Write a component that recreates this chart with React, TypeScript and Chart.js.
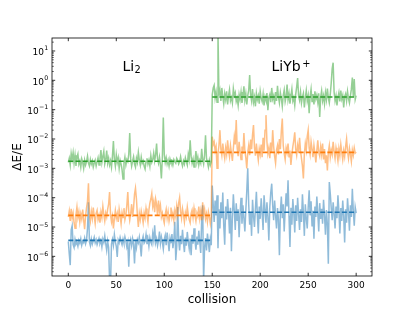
import React, { useEffect, useRef } from 'react';
import { Chart, registerables } from 'chart.js';

Chart.register(...registerables);

// collision index (categories)
const collisions: number[] = Array.from({ length: 301 }, (_, i) => i);

// blue series (lowest band): collisions 0-149 and 150-300
const blueLi2 = [
  3.2e-6, 1.2e-6, 5.0e-7, 8.0e-6, 1.1e-5, 2.5e-6, 2.0e-6, 3.8e-6, 2.6e-6, 3.0e-6,
  2.2e-6, 3.5e-6, 2.8e-6, 4.0e-6, 2.4e-6, 3.3e-6, 2.9e-6, 4.2e-6, 2.7e-6, 3.6e-6,
  9.0e-6, 7.0e-5, 3.1e-6, 2.3e-6, 3.9e-6, 2.6e-6, 3.4e-6, 4.5e-6, 2.9e-6, 3.7e-6,
  2.5e-6, 3.2e-6, 4.1e-6, 2.8e-6, 3.5e-6, 2.1e-6, 3.9e-6, 3.0e-6, 5.0e-6, 2.7e-6,
  1.6e-6, 3.3e-6, 2.0e-6, 1.5e-7, 1.2e-7, 2.6e-6, 3.8e-6, 2.4e-6, 5.5e-6, 3.1e-6,
  2.2e-6, 9.5e-7, 3.6e-6, 2.9e-6, 4.4e-6, 3.2e-6, 2.5e-6, 3.9e-6, 2.8e-6, 4.6e-6,
  3.3e-6, 2.1e-6, 3.0e-6, 4.4e-7, 2.7e-6, 3.8e-6, 2.3e-6, 4.0e-6, 2.6e-6, 5.7e-7,
  3.4e-6, 2.0e-6, 3.7e-6, 2.9e-6, 4.5e-6, 2.4e-6, 1.0e-6, 3.5e-6, 4.8e-6, 2.8e-6,
  3.2e-6, 5.5e-6, 2.6e-6, 3.9e-6, 2.2e-6, 4.3e-6, 3.0e-6, 2.5e-6, 6.0e-6, 3.6e-6,
  1.15e-5, 2.9e-6, 4.0e-6, 2.3e-6, 3.4e-6, 7.0e-6, 2.7e-6, 4.6e-6, 3.1e-6, 1.8e-6,
  3.8e-6, 5.2e-6, 2.4e-6, 6.5e-6, 3.3e-6, 1.5e-6, 4.1e-6, 2.8e-6, 5.8e-6, 1.9e-6,
  3.5e-6, 1.5e-5, 7.4e-7, 2.2e-6, 4.8e-5, 3.6e-6, 1.6e-6, 5.0e-6, 2.6e-6, 8.0e-6,
  3.0e-6, 1.4e-6, 4.4e-6, 2.3e-6, 6.8e-6, 3.2e-6, 1.8e-6, 4.0e-6, 1.1e-6, 5.4e-6,
  2.7e-6, 9.0e-6, 3.5e-6, 1.7e-6, 4.7e-6, 2.5e-6, 7.5e-6, 3.1e-6, 1.3e-6, 1.8e-5,
  5.5e-5, 1.5e-7, 2.0e-6, 4.2e-6, 1.6e-6, 6.0e-6, 2.9e-6, 1.4e-6, 3.8e-6, 2.4e-6,
];
const blueLiYb = [
  2.6e-4, 6.0e-5, 1.5e-5, 8.0e-5, 2.5e-5, 1.2e-4, 1.9e-6, 4.0e-5, 9.0e-6, 7.0e-5,
  2.0e-5, 1.5e-4, 1.1e-5, 2.5e-6, 5.0e-5, 1.8e-5, 9.0e-5, 3.0e-5, 6.0e-6, 4.5e-5,
  1.5e-6, 2.2e-5, 1.3e-4, 3.5e-5, 8.0e-6, 6.5e-5, 1.6e-5, 4.0e-5, 4.5e-6, 2.8e-5,
  1.0e-4, 1.3e-5, 5.5e-5, 2.0e-5, 7.0e-6, 3.8e-5, 1.7e-4, 1.0e-3, 6.0e-5, 1.2e-5,
  3.2e-5, 5.0e-6, 8.5e-5, 2.4e-5, 1.0e-5, 4.2e-5, 1.6e-4, 2.7e-5, 6.0e-6, 5.0e-5,
  1.9e-5, 9.5e-5, 3.0e-5, 8.0e-6, 1.2e-4, 4.0e-5, 1.4e-5, 7.0e-5, 2.2e-5, 3.5e-6,
  4.8e-5, 1.5e-4, 3.0e-4, 5.5e-5, 1.7e-5, 8.0e-5, 2.6e-5, 9.0e-6, 4.4e-5, 1.8e-5,
  1.1e-6, 3.3e-5, 1.1e-4, 2.0e-5, 6.0e-5, 7.0e-6, 3.8e-5, 1.4e-4, 5.0e-5, 3.9e-4,
  2.4e-5, 2.1e-6, 4.5e-5, 1.2e-5, 9.0e-5, 3.0e-5, 6.5e-6, 5.5e-5, 1.6e-5, 1.0e-4,
  2.8e-5, 8.0e-6, 4.0e-5, 1.5e-5, 1.3e-4, 3.2e-5, 5.0e-6, 6.0e-5, 2.0e-5, 9.0e-6,
  4.6e-5, 1.8e-4, 2.5e-5, 7.5e-5, 1.1e-5, 3.6e-5, 4.0e-6, 5.0e-5, 2.2e-5, 1.1e-4,
  3.0e-5, 7.0e-6, 6.5e-5, 1.9e-5, 4.2e-5, 1.3e-5, 8.5e-5, 2.6e-5, 5.5e-6, 3.8e-5,
  1.2e-5, 5.6e-7, 3.4e-4, 1.4e-4, 4.5e-5, 1.7e-5, 7.0e-5, 2.8e-5, 9.0e-6, 5.0e-5,
  2.0e-5, 1.2e-4, 3.5e-5, 6.0e-6, 4.4e-5, 1.6e-5, 8.0e-5, 2.4e-5, 3.0e-6, 4.0e-5,
  1.4e-5, 9.5e-5, 3.1e-5, 7.5e-6, 5.5e-5, 2.2e-5, 2.0e-4, 3.6e-5, 1.1e-5, 4.8e-5,
  3.0e-5,
];

// orange series (middle band)
const orangeLi2 = [
  2.2e-5, 3.5e-5, 1.6e-5, 4.2e-5, 2.0e-5, 3.0e-5, 1.4e-5, 9.0e-6, 2.6e-5, 4.8e-5,
  2.1e-5, 3.3e-5, 1.5e-5, 2.8e-5, 1.9e-5, 3.9e-5, 1.7e-5, 8.5e-6, 2.4e-5, 4.5e-5,
  7.5e-5, 3.1e-4, 2.7e-5, 1.6e-5, 3.4e-5, 2.0e-5, 4.6e-5, 2.3e-5, 1.3e-5, 2.9e-5,
  3.7e-5, 1.8e-5, 2.5e-5, 1.4e-5, 3.2e-5, 2.1e-5, 5.0e-5, 2.6e-5, 1.6e-5, 3.0e-5,
  2.2e-5, 4.1e-5, 6.0e-5, 1.55e-4, 2.7e-5, 1.5e-5, 2.3e-5, 9.0e-6, 1.9e-5, 3.6e-5,
  2.0e-5, 2.9e-5, 1.5e-5, 4.0e-5, 2.4e-5, 1.3e-5, 3.1e-5, 2.1e-5, 4.4e-5, 1.8e-5,
  2.6e-5, 5.5e-5, 1.55e-4, 3.2e-5, 1.7e-5, 2.8e-5, 6.0e-5, 2.2e-5, 4.5e-5, 1.3e-4,
  2.1e-4, 9.0e-5, 2.5e-5, 1.0e-5, 2.9e-5, 1.8e-5, 3.5e-5, 2.3e-5, 1.4e-5, 3.0e-5,
  2.0e-5, 4.3e-5, 2.6e-5, 1.5e-5, 3.8e-5, 6.5e-5, 9.0e-5, 1.4e-4, 5.0e-5, 7.5e-5,
  3.2e-5, 9.0e-5, 6.0e-5, 2.4e-5, 8.0e-5, 3.5e-5, 5.5e-5, 2.2e-5, 3.0e-5, 1.9e-5,
  1.35e-5, 2.7e-5, 4.0e-5, 2.0e-5, 3.3e-5, 1.6e-5, 2.5e-5, 4.6e-5, 2.1e-5, 3.0e-5,
  1.7e-5, 3.6e-5, 2.3e-5, 5.2e-5, 2.8e-5, 6.5e-5, 1.0e-4, 3.4e-5, 2.0e-5, 4.2e-5,
  2.6e-5, 1.5e-5, 3.1e-5, 2.2e-5, 4.8e-5, 2.7e-5, 1.8e-5, 1.4e-5, 2.9e-5, 3.8e-5,
  2.1e-5, 4.4e-5, 2.5e-5, 1.6e-5, 3.0e-5, 2.3e-5, 5.0e-5, 2.0e-5, 3.5e-5, 1.7e-5,
  7.0e-5, 2.6e-5, 4.0e-5, 1.9e-5, 2.8e-5, 1.5e-5, 3.3e-5, 2.2e-5, 1.3e-5, 2.4e-5,
];
const orangeLiYb = [
  1.2e-2, 6.5e-3, 8.0e-3, 4.0e-3, 5.5e-3, 1.0e-3, 3.2e-3, 6.0e-3, 2.0e-2, 4.5e-3,
  2.8e-3, 7.0e-3, 3.6e-3, 2.2e-3, 5.0e-3, 3.0e-3, 9.0e-3, 4.2e-3, 2.5e-3, 6.0e-3,
  3.3e-3, 1.8e-3, 4.8e-3, 1.2e-2, 6.5e-3, 4.4e-2, 5.0e-3, 2.6e-3, 8.0e-3, 3.8e-3,
  2.0e-3, 5.5e-3, 3.1e-3, 1.6e-2, 4.0e-3, 2.3e-3, 1.0e-3, 3.5e-3, 6.0e-3, 2.8e-3,
  9.5e-3, 4.5e-3, 1.4e-2, 3.0e-2, 5.2e-3, 2.7e-3, 7.0e-3, 3.4e-3, 1.9e-3, 4.6e-3,
  3.0e-3, 6.5e-3, 2.4e-3, 1.1e-2, 4.0e-3, 2.0e-2, 6.5e-2, 8.0e-3, 3.2e-3, 5.0e-3,
  2.2e-3, 7.5e-3, 3.6e-3, 2.0e-2, 5.5e-3, 2.6e-3, 1.5e-3, 4.2e-3, 6.0e-3, 3.0e-3,
  1.0e-2, 4.5e-3, 1.8e-2, 5.0e-2, 6.0e-3, 3.2e-3, 2.0e-3, 5.0e-3, 3.5e-3, 7.0e-3,
  2.5e-3, 4.0e-3, 1.3e-3, 3.0e-3, 5.5e-3, 9.0e-3, 1.7e-2, 4.5e-3, 2.8e-3, 6.0e-3,
  3.4e-3, 1.1e-2, 4.0e-3, 2.2e-3, 1.2e-3, 4.5e-4, 3.0e-3, 7.0e-3, 4.2e-3, 1.2e-2,
  2.0e-2, 5.0e-3, 3.0e-3, 8.0e-3, 4.5e-3, 2.4e-3, 6.0e-3, 3.2e-3, 1.6e-3, 4.0e-3,
  9.0e-3, 3.5e-3, 2.6e-3, 5.5e-3, 3.0e-3, 7.0e-3, 2.0e-3, 4.5e-3, 1.5e-3, 2.8e-3,
  8.5e-4, 3.6e-3, 6.0e-3, 2.4e-3, 4.2e-3, 3.0e-3, 8.0e-3, 3.8e-3, 2.2e-3, 5.0e-3,
  3.2e-3, 1.8e-3, 4.6e-3, 2.7e-3, 6.5e-3, 3.5e-3, 2.0e-3, 4.0e-3, 2.5e-3, 5.5e-3,
  1.0e-2, 3.8e-3, 2.2e-3, 4.8e-3, 3.0e-3, 1.7e-3, 4.2e-3, 2.8e-3, 5.0e-3, 3.3e-3,
  3.6e-3,
];

// green series (top band)
const greenLi2 = [
  1.6e-3, 2.2e-3, 1.3e-3, 3.2e-3, 2.0e-3, 3.4e-3, 1.5e-3, 2.8e-3, 1.2e-3, 2.4e-3,
  3.1e-3, 1.4e-3, 1.8e-3, 1.1e-3, 2.1e-3, 1.6e-3, 1.0e-3, 1.9e-3, 1.3e-3, 1.7e-3,
  2.6e-3, 1.5e-3, 1.2e-3, 2.0e-3, 1.4e-3, 1.8e-3, 1.1e-3, 1.5e-3, 1.9e-3, 1.2e-3,
  1.7e-3, 2.3e-3, 1.3e-3, 2.1e-3, 4.2e-3, 1.6e-3, 2.5e-3, 3.8e-3, 1.4e-3, 2.0e-3,
  4.0e-3, 1.5e-3, 2.2e-3, 1.3e-3, 1.8e-3, 1.1e-3, 2.6e-3, 8.5e-3, 2.0e-3, 1.2e-3,
  2.9e-3, 1.6e-3, 2.3e-3, 1.0e-3, 1.9e-3, 1.4e-3, 9.0e-4, 4.3e-4, 1.5e-3, 2.4e-3,
  1.3e-3, 2.0e-3, 1.7e-3, 3.0e-3, 1.6e-2, 2.1e-3, 1.2e-3, 1.8e-3, 2.5e-3, 1.4e-3,
  1.1e-3, 2.2e-3, 1.6e-3, 3.5e-3, 1.9e-3, 1.3e-3, 2.4e-3, 1.5e-3, 1.8e-3, 1.2e-3,
  9.5e-4, 1.7e-3, 2.2e-3, 1.4e-3, 1.9e-3, 1.2e-3, 2.7e-3, 1.6e-3, 2.0e-3, 3.3e-3,
  1.8e-3, 2.9e-3, 7.0e-3, 2.1e-3, 1.5e-3, 2.4e-3, 1.3e-3, 4.5e-4, 2.2e-3, 5.4e-2,
  3.0e-3, 1.6e-3, 2.3e-3, 1.4e-3, 1.9e-3, 1.2e-3, 2.1e-3, 1.6e-3, 1.8e-3, 1.3e-3,
  2.0e-3, 1.7e-3, 1.5e-3, 2.2e-3, 1.9e-3, 1.4e-3, 1.7e-3, 2.5e-3, 1.6e-3, 1.2e-3,
  1.8e-3, 1.4e-3, 2.3e-3, 1.7e-3, 1.3e-3, 3.0e-3, 2.0e-3, 9.0e-3, 2.6e-3, 1.5e-3,
  2.1e-3, 1.1e-3, 1.8e-3, 3.9e-3, 1.6e-3, 2.4e-3, 1.3e-3, 1.9e-3, 1.5e-3, 4.6e-3,
  2.0e-3, 1.4e-3, 2.8e-3, 1.35e-2, 2.2e-3, 1.6e-3, 1.1e-3, 1.9e-3, 1.3e-3, 1.7e-3,
];
const greenLiYb = [
  0.32, 0.55, 0.68, 0.25, 0.4, 0.18, 40, 0.3, 0.45, 0.2,
  0.55, 0.28, 0.16, 0.35, 0.22, 0.42, 0.15, 0.3, 0.48, 0.2,
  0.26, 0.17, 0.52, 0.3, 0.38, 0.19, 0.25, 0.14, 0.33, 0.22,
  0.4, 0.17, 0.28, 0.62, 0.21, 0.35, 0.15, 0.3, 0.45, 1.5,
  0.32, 0.2, 0.5, 0.18, 0.27, 0.13, 0.36, 0.22, 0.3, 0.16,
  0.42, 0.25, 0.19, 0.34, 0.14, 0.28, 0.21, 0.37, 0.095, 0.26,
  0.33, 0.18, 0.55, 0.23, 0.3, 0.15, 0.4, 0.2, 0.65, 0.27,
  0.17, 0.38, 0.24, 0.13, 0.31, 0.47, 0.19, 0.28, 0.72, 0.22,
  0.35, 0.16, 0.29, 0.5, 0.2, 0.26, 0.14, 0.33, 0.6, 1.2,
  0.3, 0.21, 0.4, 0.17, 0.27, 0.36, 0.12, 0.25, 0.45, 0.2,
  0.3, 0.075, 0.28, 0.5, 0.19, 0.34, 0.15, 0.42, 0.23, 0.31,
  0.18, 0.36, 0.056, 0.27, 0.44, 0.2, 0.3, 0.16, 0.38, 0.22,
  0.52, 0.25, 0.17, 0.33, 0.8, 2.5, 4.0, 0.4, 0.2, 0.3,
  0.14, 0.26, 0.38, 0.19, 0.45, 0.23, 0.31, 0.12, 0.28, 0.35,
  0.2, 0.42, 0.24, 0.17, 0.3, 0.5, 1.25, 0.28, 1.1, 0.22,
  0.3,
];

// dashed mean levels: [blue, orange, green]
const meanLi2 = [3.5e-6, 2.5e-5, 1.74e-3];
const meanLiYb = [3.2e-5, 3.5e-3, 0.27];
const segmentBounds = [0, 150, 300];

// axis ticks
const xTicks = [0, 50, 100, 150, 200, 250, 300];
const yTickExps = [-6, -5, -4, -3, -2, -1, 0, 1];
const supDigits: Record<string, string> = { '-': '\u2212' };

const FONT = '"DejaVu Sans", "Liberation Sans", sans-serif';

const mplAxes = {
  id: 'mplAxes',
  afterDraw(chart: any) {
    const { ctx, chartArea } = chart;
    const { left, right, top, bottom } = chartArea;
    const xs = chart.scales.x;
    const ys = chart.scales.y;
    ctx.save();
    ctx.strokeStyle = '#000';
    ctx.fillStyle = '#000';
    // frame
    ctx.lineWidth = 0.8;
    ctx.strokeRect(left, top, right - left, bottom - top);
    const seg = (x1: number, y1: number, x2: number, y2: number) => {
      ctx.beginPath();
      ctx.moveTo(x1, y1);
      ctx.lineTo(x2, y2);
      ctx.stroke();
    };
    // x ticks (inward, top and bottom)
    ctx.lineWidth = 0.8;
    for (const t of xTicks) {
      const px = xs.getPixelForValue(t);
      seg(px, bottom, px, bottom - 3.2);
      seg(px, top, px, top + 3.2);
    }
    // y ticks (major and minor, inward, both sides)
    const ymin = ys.min, ymax = ys.max;
    for (let e = -7; e <= 1; e++) {
      for (let m = 1; m <= 9; m++) {
        const v = m * Math.pow(10, e);
        if (v < ymin || v > ymax) continue;
        const py = ys.getPixelForValue(v);
        const len = m === 1 ? 3.2 : 1.8;
        ctx.lineWidth = m === 1 ? 0.8 : 0.6;
        seg(left, py, left + len, py);
        seg(right, py, right - len, py);
      }
    }
    // x tick labels
    ctx.font = `9px ${FONT}`;
    ctx.textAlign = 'center';
    ctx.textBaseline = 'alphabetic';
    for (const t of xTicks) {
      ctx.fillText(String(t), xs.getPixelForValue(t), bottom + 11.7);
    }
    // y tick labels 10^n
    ctx.textAlign = 'left';
    for (const e of yTickExps) {
      const py = ys.getPixelForValue(Math.pow(10, e));
      const base = '10';
      const sup = String(e).split('').map((c) => supDigits[c] || c).join('');
      ctx.font = `9px ${FONT}`;
      const wb = ctx.measureText(base).width;
      ctx.font = `6.3px ${FONT}`;
      const ws = ctx.measureText(sup).width;
      const x0 = 48 - wb - ws;
      ctx.font = `9px ${FONT}`;
      ctx.fillText(base, x0, py + 4.2);
      ctx.font = `6.3px ${FONT}`;
      ctx.fillText(sup, x0 + wb + 0.3, py - 0.5);
    }
    // axis titles
    ctx.font = `12px ${FONT}`;
    ctx.textAlign = 'center';
    ctx.fillText('collision', (left + right) / 2, bottom + 26.7);
    ctx.save();
    ctx.translate(20.5, (top + bottom) / 2);
    ctx.rotate(-Math.PI / 2);
    ctx.textBaseline = 'alphabetic';
    ctx.fillText('\u0394E/E', 0, 0);
    ctx.restore();
    // annotations
    ctx.textAlign = 'left';
    ctx.font = `14px ${FONT}`;
    ctx.fillText('Li', 122.5, 70.7);
    const wLi = ctx.measureText('Li').width;
    ctx.font = `9.8px ${FONT}`;
    ctx.fillText('2', 122.5 + wLi + 0.3, 73.3);
    ctx.font = `14px ${FONT}`;
    ctx.fillText('LiYb', 271.5, 70.7);
    const wLy = ctx.measureText('LiYb').width;
    ctx.font = `9.8px ${FONT}`;
    ctx.fillText('+', 271.5 + wLy + 1.5, 66.5);
    ctx.restore();
  },
};

const lineColors = {
  blue: ['rgba(31,119,180,0.5)', '#1f77b4'],
  orange: ['rgba(255,127,14,0.5)', '#ff7f0e'],
  green: ['rgba(44,160,44,0.5)', '#2ca02c'],
};

export default function App() {
  const ref = useRef<HTMLCanvasElement | null>(null);
  useEffect(() => {
    if (!ref.current) return;
    const series = [
      { vals: [...blueLi2, ...blueLiYb], col: lineColors.blue, order: 6 },
      { vals: [...orangeLi2, ...orangeLiYb], col: lineColors.orange, order: 5 },
      { vals: [...greenLi2, ...greenLiYb], col: lineColors.green, order: 4 },
    ];
    const datasets: any[] = [];
    series.forEach((s) => {
      datasets.push({
        data: s.vals.map((v, i) => ({ x: collisions[i], y: v })),
        borderColor: s.col[0],
        backgroundColor: s.col[0],
        borderWidth: 1.5,
        pointRadius: 0,
        fill: false,
        tension: 0,
        order: s.order,
      });
    });
    series.forEach((s, k) => {
      const dashed = {
        borderColor: s.col[1],
        backgroundColor: s.col[1],
        borderWidth: 1.6,
        borderDash: [5, 2.2],
        pointRadius: 0,
        fill: false,
        order: 3 - k,
      };
      datasets.push({
        ...dashed,
        data: [
          { x: segmentBounds[0], y: meanLi2[k] },
          { x: segmentBounds[1], y: meanLi2[k] },
        ],
      });
      datasets.push({
        ...dashed,
        data: [
          { x: segmentBounds[1], y: meanLiYb[k] },
          { x: segmentBounds[2], y: meanLiYb[k] },
        ],
      });
    });
    const chart = new Chart(ref.current, {
      type: 'line',
      data: { datasets },
      options: {
        animation: false,
        responsive: false,
        events: [],
        layout: { padding: { left: 52, top: 38, right: 43, bottom: 35 } },
        plugins: { legend: { display: false }, tooltip: { enabled: false } },
        scales: {
          x: { type: 'linear', min: -17, max: 316.5, display: false },
          y: { type: 'logarithmic', min: 2.14e-7, max: 27.7, display: false },
        },
      },
      plugins: [mplAxes],
    } as any);
    return () => chart.destroy();
  }, []);
  return (
    <div style={{ position: 'fixed', left: 0, top: 0, width: 415, height: 311, background: '#fff' }}>
      <canvas ref={ref} width={415} height={311} style={{ width: 415, height: 311, display: 'block' }} />
    </div>
  );
}
